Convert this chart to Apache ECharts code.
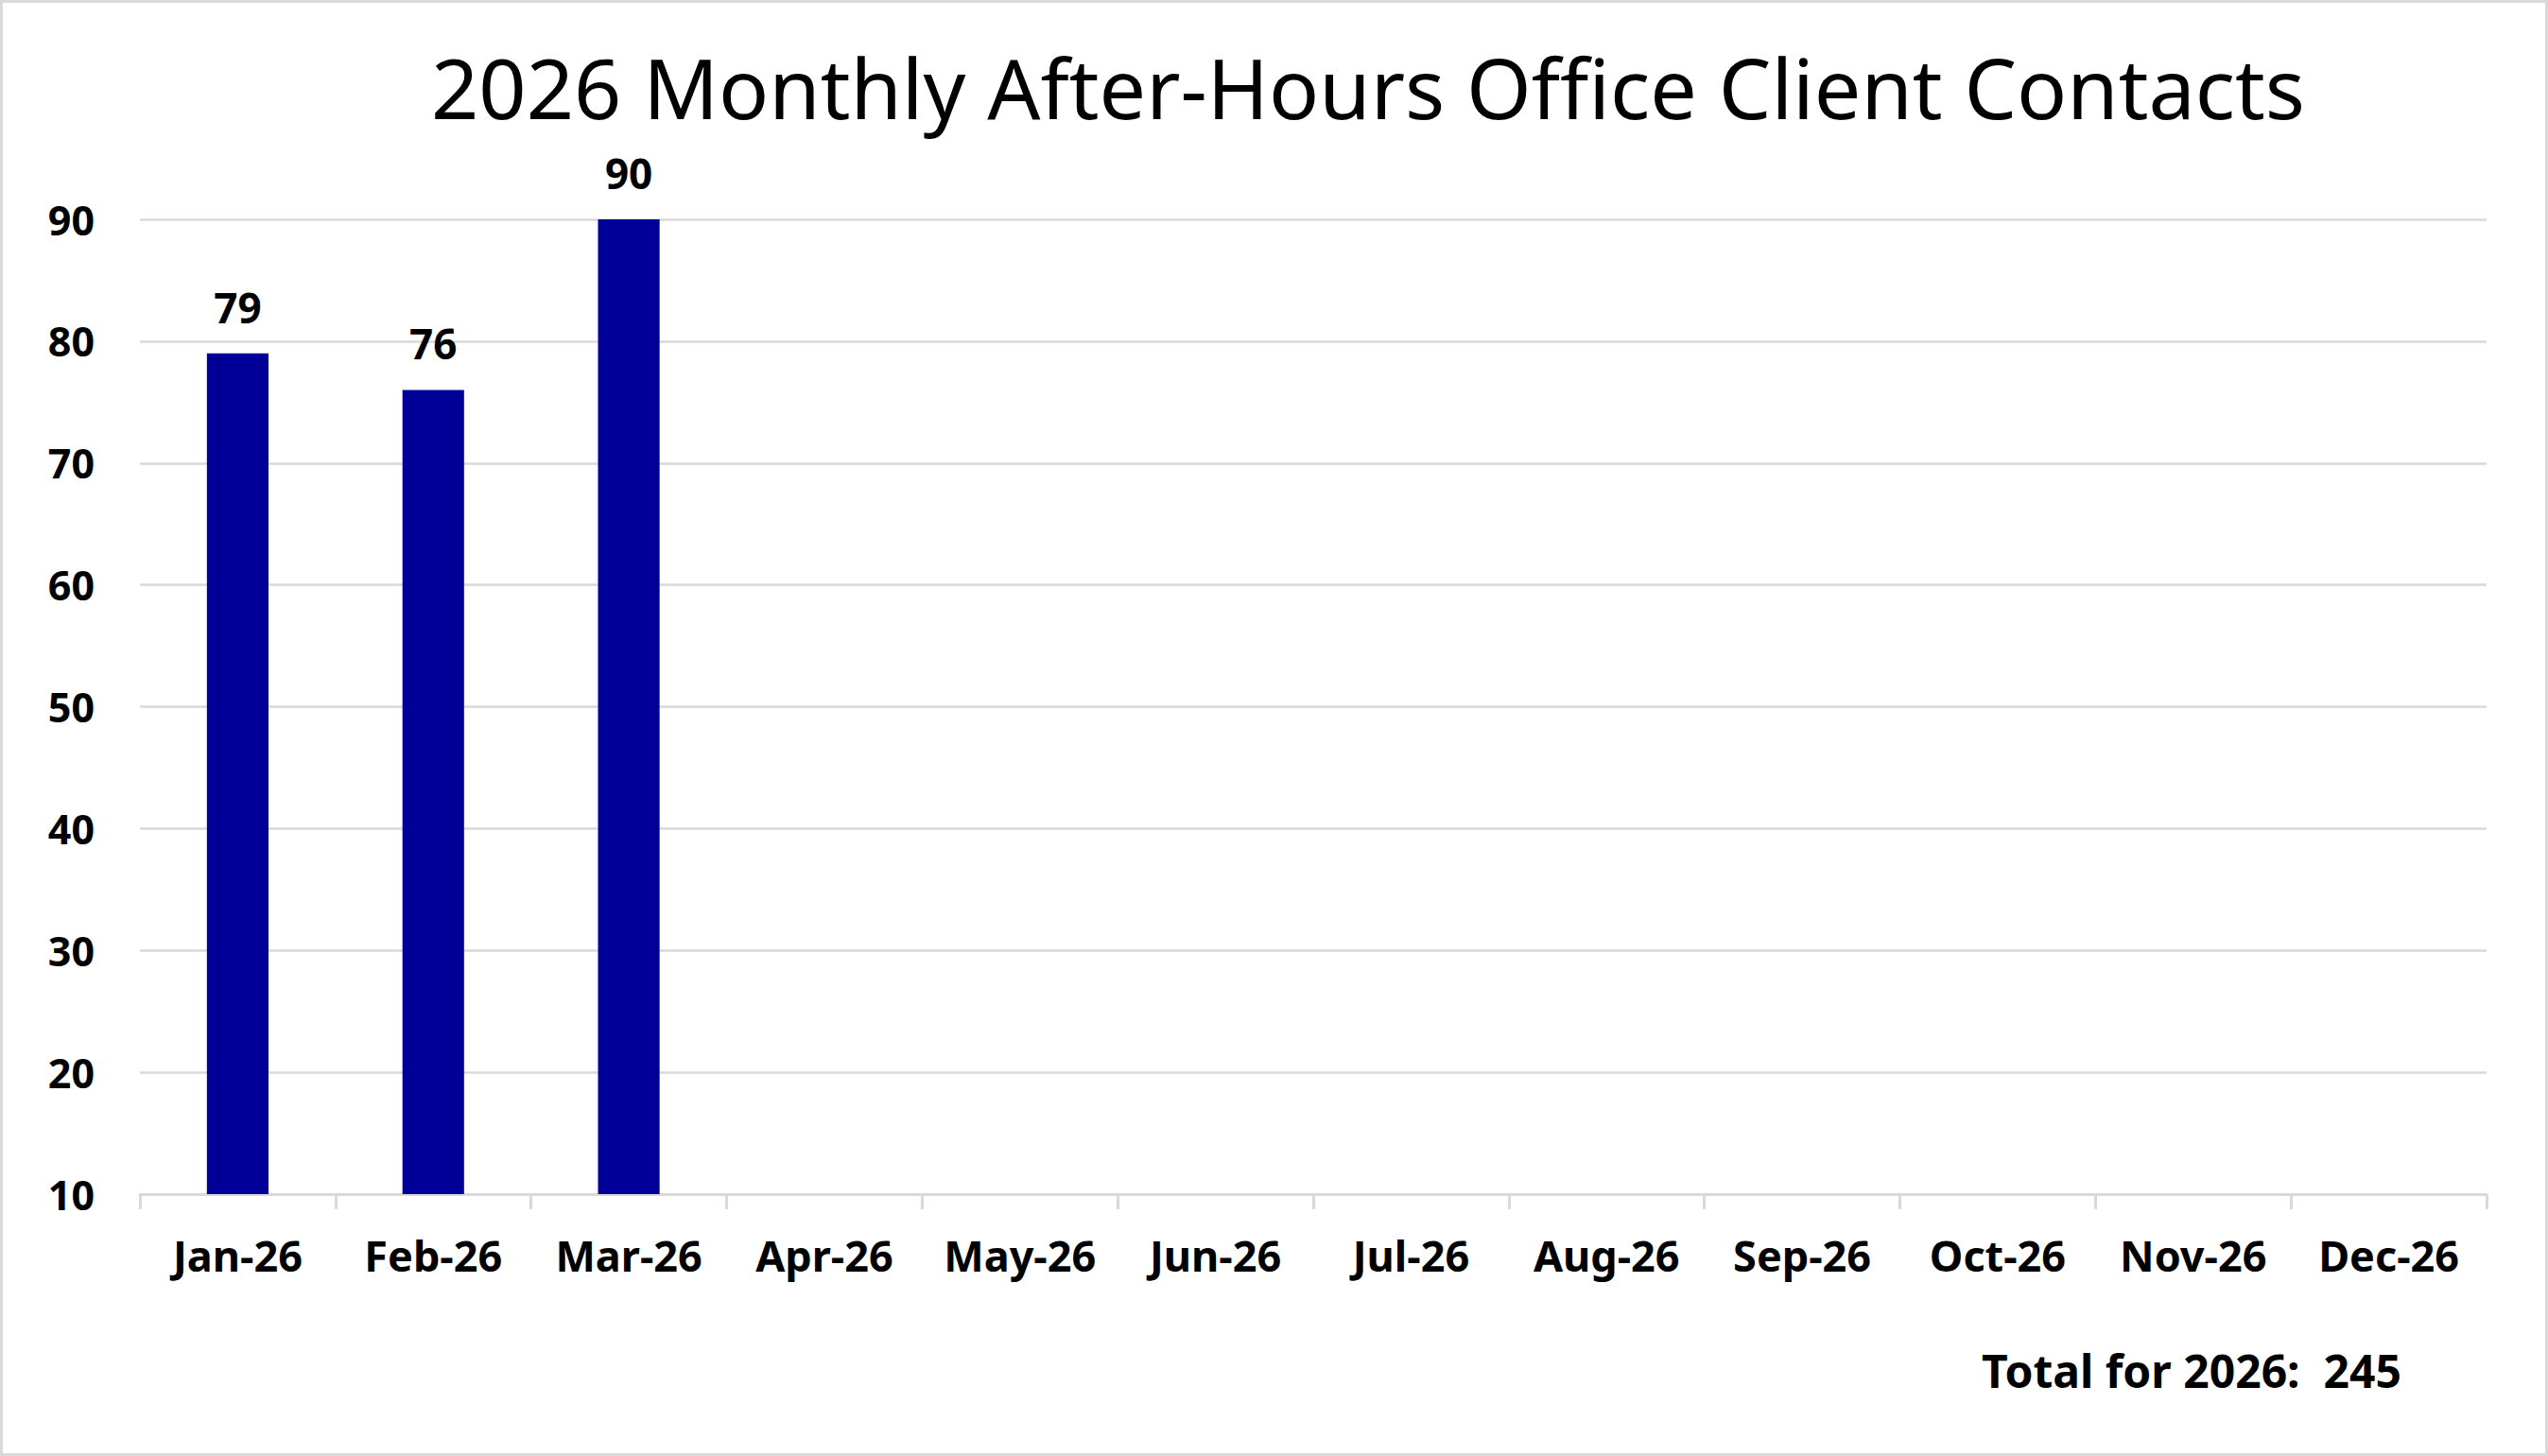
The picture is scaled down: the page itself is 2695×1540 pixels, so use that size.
<!DOCTYPE html>
<html>
<head>
<meta charset="utf-8">
<script src="https://cdn.jsdelivr.net/npm/echarts@6/dist/echarts.min.js"></script>
<style>
html,body{margin:0;padding:0;background:#fff;}
#chart{width:2695px;height:1540px;}
</style>
</head>
<body>
<div id="chart"></div>
<script>
const titleText = "2026 Monthly After-Hours Office Client Contacts";
const months = ["Jan-26","Feb-26","Mar-26","Apr-26","May-26","Jun-26","Jul-26","Aug-26","Sep-26","Oct-26","Nov-26","Dec-26"];
const contacts = [79, 76, 90, null, null, null, null, null, null, null, null, null];
const yTicks = [10, 20, 30, 40, 50, 60, 70, 80, 90];
const totalYear = "2026";
const totalValue = contacts.reduce((a, v) => a + (v || 0), 0);

const FONT = "'Noto Sans', 'Open Sans', 'DejaVu Sans', sans-serif";
const chart = echarts.init(document.getElementById('chart'), null, {renderer: 'svg'});
chart.setOption({
  backgroundColor: '#ffffff',
  animation: false,
  grid: {left: 148, right: 65, top: 232, bottom: 277, containLabel: false},
  xAxis: {
    type: 'category',
    data: months,
    boundaryGap: true,
    axisLine: {show: true, lineStyle: {color: '#d9d9d9', width: 3}},
    axisTick: {show: true, alignWithLabel: false, length: 16, lineStyle: {color: '#d9d9d9', width: 3}},
    axisLabel: {color: '#000', fontFamily: FONT, fontWeight: 'bold', fontSize: 45, margin: 42, interval: 0}
  },
  yAxis: {
    type: 'value',
    min: yTicks[0],
    max: yTicks[yTicks.length - 1],
    interval: 10,
    axisLine: {show: false},
    axisTick: {show: false},
    splitLine: {show: true, lineStyle: {color: '#d9d9d9', width: 2.5}},
    axisLabel: {color: '#000', fontFamily: FONT, fontWeight: 'bold', fontSize: 43, margin: 48}
  },
  series: [{
    type: 'bar',
    data: contacts,
    barWidth: '31.5%',
    itemStyle: {color: '#000099'},
    label: {show: true, position: 'top', distance: 27, color: '#000', fontFamily: FONT, fontWeight: 'bold', fontSize: 44}
  }],
  graphic: [
    {type: 'rect', shape: {x: 1.5, y: 1.5, width: 2692, height: 1537}, style: {fill: 'none', stroke: '#d9d9d9', lineWidth: 3}, silent: true},
    {type: 'text', x: 1447, y: 92, style: {text: titleText, fill: '#000', font: '88px ' + FONT, textAlign: 'center', textVerticalAlign: 'middle'}},
    {type: 'text', x: 2318, y: 1449, style: {text: 'Total for ' + totalYear + ':  ' + totalValue, fill: '#000', font: 'bold 48px ' + FONT, textAlign: 'center', textVerticalAlign: 'middle'}}
  ]
});
</script>
</body>
</html>
